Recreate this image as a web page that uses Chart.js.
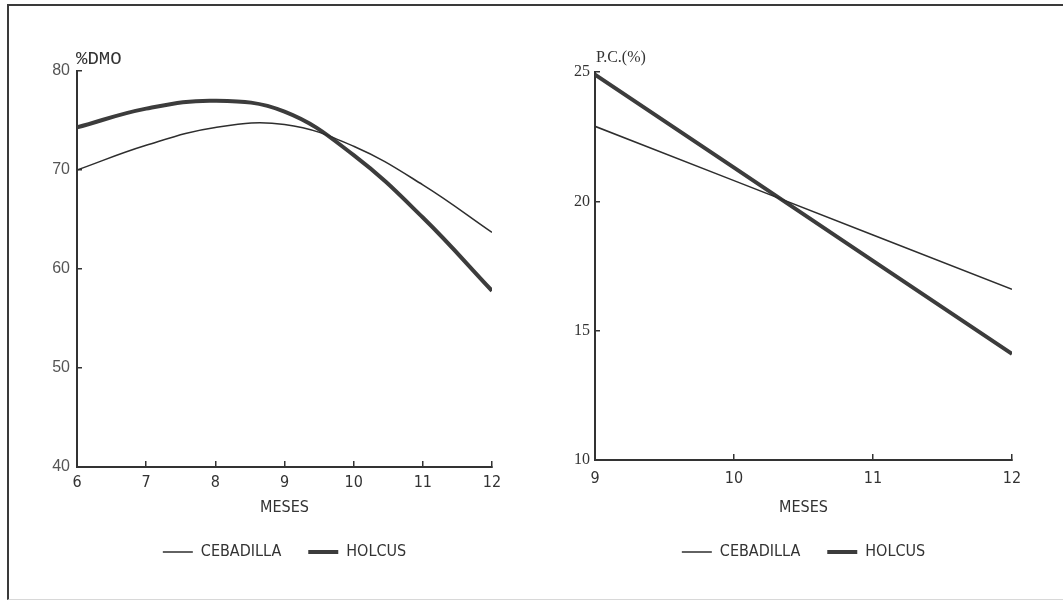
<!DOCTYPE html>
<html>
<head>
<meta charset="utf-8">
<script src="https://cdn.jsdelivr.net/npm/chart.js@4"></script>
<style>
  body { margin: 0; background: #fff; }
  #page { position: relative; width: 1063px; height: 602px; overflow: hidden; background: #fff; }
  .frame { position: absolute; left: 7px; top: 4px; width: 1060px; height: 593px;
           border-top: 2px solid #3a3a3a; border-left: 2px solid #3a3a3a; border-bottom: 1px solid #d8d8d8; }
  .box { position: absolute; top: 0; height: 602px; }
</style>
</head>
<body>
<div id="page">
  <div class="frame"></div>
  <div class="box" style="left:0; width:531px;"><canvas id="dmo"></canvas></div>
  <div class="box" style="left:531px; width:532px;"><canvas id="pc"></canvas></div>
</div>
<script>
// digestibilidad (%DMO) por mes
const mesesDmo = [6, 7, 8, 9, 10, 11, 12];
const dmoCebadilla = [70.0, 72.5, 74.3, 74.6, 72.4, 68.5, 63.7];
const dmoHolcus = [74.3, 76.2, 77.0, 75.9, 71.5, 65.2, 57.8];
const dmoTicks = [40, 50, 60, 70, 80];

// proteina cruda (P.C. %) por mes
const mesesPc = [9, 10, 11, 12];
const pcCebadilla = [22.9, 20.8, 18.7, 16.6];
const pcHolcus = [24.9, 21.3, 17.7, 14.1];
const pcTicks = [10, 15, 20, 25];

const series = ['CEBADILLA', 'HOLCUS'];

const plotterFont = "'DejaVu Sans Condensed', 'Liberation Sans Narrow', 'Liberation Sans', sans-serif";
const ink = '#333';

const toPoints = (xs, ys) => xs.map((x, i) => ({ x, y: ys[i] }));

// y-axis caption written across the top of the axis
const axisCaption = {
  id: 'axisCaption',
  afterDraw(chart, args, opts) {
    const { ctx } = chart;
    const y = chart.scales.y;
    ctx.save();
    ctx.font = opts.font;
    ctx.fillStyle = opts.color;
    ctx.textAlign = 'left';
    ctx.textBaseline = 'middle';
    ctx.fillText(opts.text, y.right + opts.dx, chart.chartArea.top + opts.dy);
    ctx.restore();
  }
};

function makeChart(id, cfg) {
  const ctx = document.getElementById(id).getContext('2d');
  return new Chart(ctx, {
    type: 'line',
    data: {
      datasets: [{
        label: series[0],
        data: toPoints(cfg.months, cfg.thin),
        borderColor: '#2e2e2e',
        borderWidth: 1.5,
        pointRadius: 0,
        fill: false,
        tension: cfg.tension
      }, {
        label: series[1],
        data: toPoints(cfg.months, cfg.thick),
        borderColor: '#3c3c3c',
        borderWidth: 4,
        pointRadius: 0,
        fill: false,
        tension: cfg.tension
      }]
    },
    options: {
      responsive: true,
      maintainAspectRatio: false,
      animation: false,
      layout: { padding: cfg.padding },
      plugins: {
        tooltip: { enabled: false },
        legend: {
          position: 'bottom',
          fullSize: false,
          labels: {
            usePointStyle: true,
            pointStyle: 'line',
            pointStyleWidth: 30,
            padding: 27,
            color: ink,
            font: { family: plotterFont, size: 16 }
          }
        },
        axisCaption: cfg.caption
      },
      scales: {
        x: {
          type: 'linear',
          min: cfg.months[0],
          max: cfg.months[cfg.months.length - 1],
          afterFit: s => { s.height = cfg.xHeight; },
          ticks: { stepSize: 1, padding: cfg.xPad, color: ink, font: { family: plotterFont, size: 16 } },
          grid: { drawOnChartArea: false, tickLength: -6, color: ink, lineWidth: 1.5 },
          border: { color: ink, width: 2 },
          title: { display: true, text: 'MESES', padding: 0, color: ink, font: { family: plotterFont, size: 16 } }
        },
        y: {
          min: cfg.yTicks[0],
          max: cfg.yTicks[cfg.yTicks.length - 1],
          afterFit: s => { s.width = cfg.yWidth; },
          ticks: { stepSize: cfg.yTicks[1] - cfg.yTicks[0], padding: cfg.yPad, color: cfg.yColor, font: cfg.yFont },
          grid: { drawOnChartArea: false, tickLength: -5, color: ink, lineWidth: 1.5 },
          border: { color: ink, width: 2 }
        }
      }
    },
    plugins: [axisCaption]
  });
}

makeChart('dmo', {
  months: mesesDmo, thin: dmoCebadilla, thick: dmoHolcus, yTicks: dmoTicks,
  tension: 0.4,
  padding: { top: 71, right: 39, bottom: 32, left: 0 },
  xHeight: 50, xPad: 12, yWidth: 77, yPad: 12,
  yColor: '#555', yFont: { family: "'Liberation Sans', Arial, sans-serif", size: 16 },
  caption: { text: '%DMO', font: "19px 'Liberation Mono', monospace", color: ink, dx: -1, dy: -12 }
});

makeChart('pc', {
  months: mesesPc, thin: pcCebadilla, thick: pcHolcus, yTicks: pcTicks,
  tension: 0,
  padding: { top: 72, right: 51, bottom: 32, left: 0 },
  xHeight: 57, xPad: 15, yWidth: 64, yPad: 10,
  yColor: ink, yFont: { family: "'Liberation Serif', 'Times New Roman', serif", size: 16 },
  caption: { text: 'P.C.(%)', font: "16px 'Liberation Serif', serif", color: ink, dx: 1, dy: -14 }
});
</script>
</body>
</html>
